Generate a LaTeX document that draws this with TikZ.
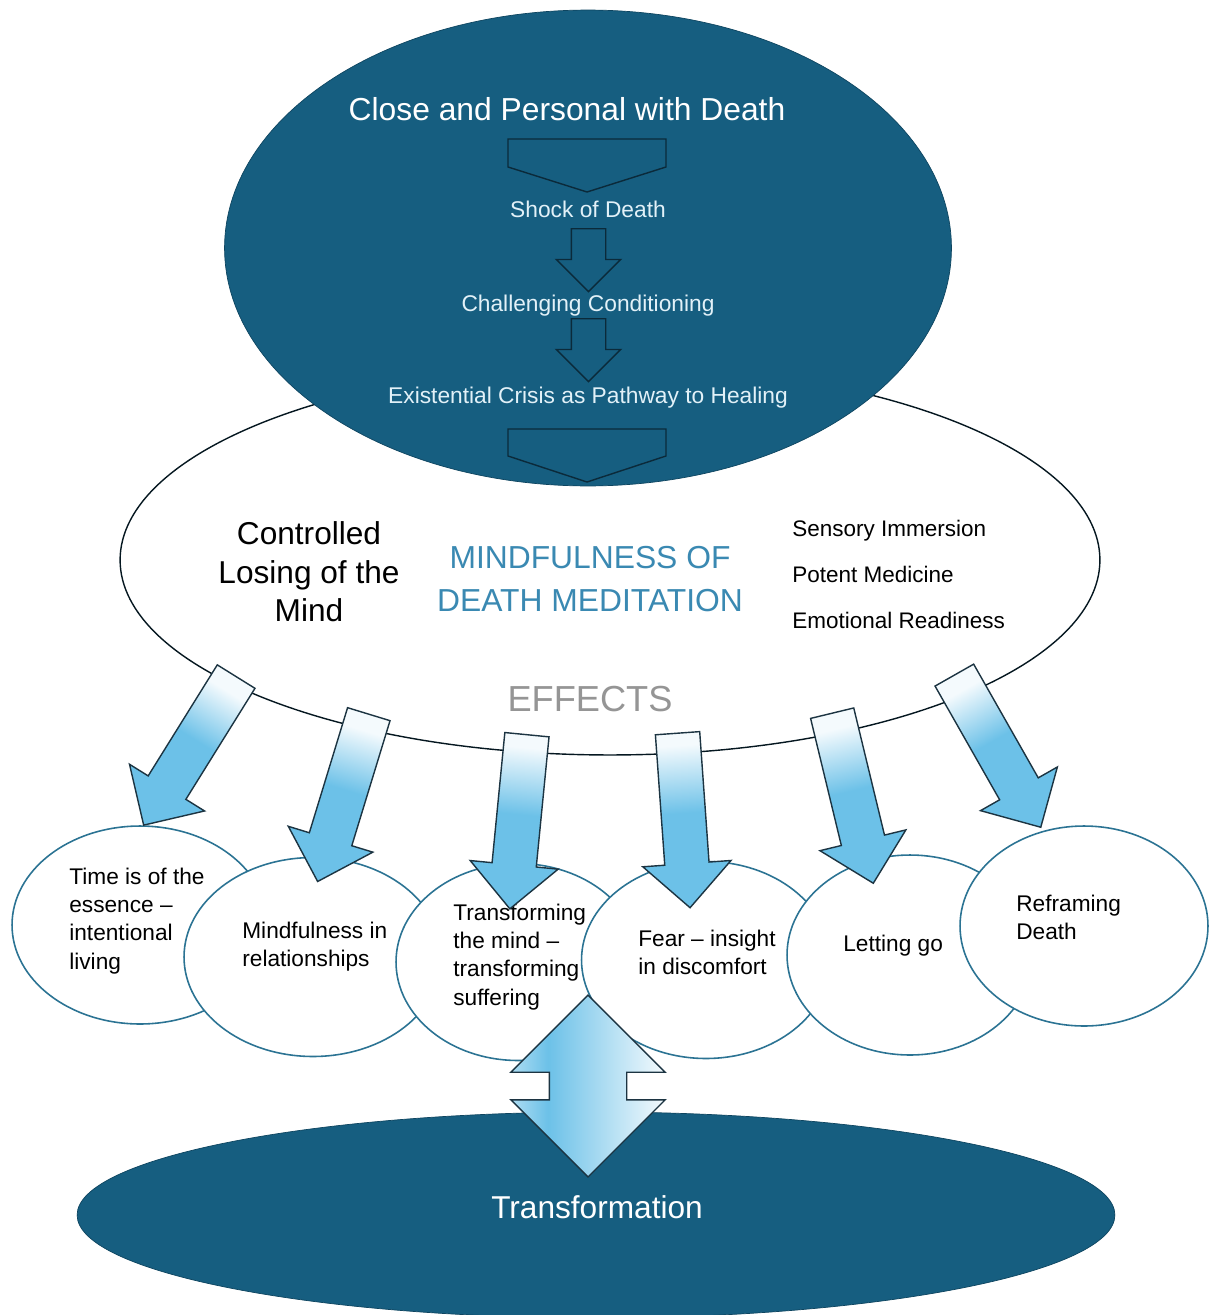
\documentclass[tikz,border=0pt]{standalone}
\usepackage{fontspec}
\setmainfont{Liberation Sans}
\usetikzlibrary{shapes.geometric, shapes.arrows}
\definecolor{deepblue}{HTML}{165E80}
\definecolor{deepedge}{HTML}{0E4560}
\definecolor{lineblue}{HTML}{2B7393}
\definecolor{titleblue}{HTML}{3A89B2}
\definecolor{arrowblue}{HTML}{6CC1E8}
\definecolor{arrowpale}{HTML}{F4FAFD}
\definecolor{arrowedge}{HTML}{1C3442}
\definecolor{flowedge}{HTML}{0B2A3A}
\definecolor{paletext}{HTML}{E2F1F8}
\definecolor{effectgray}{HTML}{959595}

% pale tail, blue head (bottom = tail)
\pgfdeclareverticalshading{arrowfade}{100bp}{color(0bp)=(arrowpale); color(28bp)=(arrowpale);
  color(48bp)=(arrowblue); color(100bp)=(arrowblue)}
% left to right across the double arrow
\pgfdeclarehorizontalshading{bothfade}{100bp}{color(0bp)=(arrowblue!55!white); color(25bp)=(arrowblue!55!white);
  color(37bp)=(arrowblue); color(75bp)=(arrowpale); color(100bp)=(arrowpale)}

\tikzset{
  bigoval/.style={ellipse, draw=deepedge, fill=deepblue, inner sep=0},
  effect/.style={ellipse, draw=lineblue, line width=0.9pt, fill=white, inner sep=0},
  efftext/.style={anchor=west, align=left, inner sep=0, font=\fontsize{12.9}{16}\selectfont},
  bluearrow/.style={single arrow, draw=arrowedge, line width=0.8pt, inner sep=0.43cm,
    minimum height=3.5cm, single arrow head extend=0.44cm, anchor=tail, shading=arrowfade},
  flowarrow/.style={single arrow, draw=flowedge, line width=0.8pt, inner sep=0.33cm,
    minimum height=1.26cm, single arrow head extend=0.3cm, rotate=-90, anchor=tail},
  paletxt/.style={text=paletext, inner sep=0, font=\fontsize{12.95}{15}\selectfont}
}

\begin{document}
\begin{tikzpicture}[x=0.02cm, y=-0.02cm]
\useasboundingbox (0,0) rectangle (1208,1315);

% meditation oval and the path into it
\node[ellipse, draw=black!75!deepblue, line width=0.8pt, fill=white, inner sep=0,
  minimum width=19.6cm, minimum height=7.8cm] (meditation) at (610,560) {};
\node[bigoval, minimum width=14.54cm, minimum height=9.52cm] (death) at (588,248) {};

\node[text=white, inner sep=0, font=\fontsize{18.1}{21}\selectfont] (close) at (567,109) {Close and Personal with Death};
\draw[flowedge, line width=0.8pt] (508,139) -- (666,139) -- (666,167) -- (587,192) -- (508,167) -- cycle;
\node[paletxt] (shock) at (588,209) {Shock of Death};
\node[flowarrow] (down1) at (588.5,228) {};
\node[paletxt] (challenge) at (588,306) {Challenging Conditioning};
\node[flowarrow] (down2) at (588.5,318) {};
\node[paletxt] (crisis) at (588,398) {Existential Crisis as Pathway to Healing};
\draw[flowedge, line width=0.8pt] (508,429) -- (666,429) -- (666,456) -- (587,482) -- (508,456) -- cycle;

% inside the meditation oval
\node[align=center, inner sep=0, font=\fontsize{18}{22}\selectfont] (losing) at (309,572) {Controlled\\Losing of the\\Mind};
\node[align=center, inner sep=0, text=titleblue, font=\fontsize{18.1}{24.4}\selectfont] (mindful) at (590,579) {MINDFULNESS OF\\DEATH MEDITATION};
\node[anchor=west, align=left, inner sep=0, font=\fontsize{12.8}{26.2}\selectfont] (factors) at (792,574) {Sensory Immersion\\Potent Medicine\\Emotional Readiness};
\node[text=effectgray, inner sep=0, font=\fontsize{20.6}{24}\selectfont] (effects) at (590,699) {EFFECTS};

% transformation
\node[bigoval, minimum width=20.76cm, minimum height=4.12cm] (transform) at (596,1215) {};
\node[text=white, inner sep=0, font=\fontsize{18}{21}\selectfont] (transtxt) at (597,1207) {Transformation};

% effects
\node[effect, minimum width=5.12cm, minimum height=3.96cm] (time) at (140,925) {};
\node[effect, minimum width=5.16cm, minimum height=3.98cm] (relation) at (313,957) {};
\node[effect, minimum width=4.88cm, minimum height=3.94cm] (suffer) at (518,962) {};
\node[effect, minimum width=4.98cm, minimum height=3.94cm] (fear) at (706,960) {};
\node[effect, minimum width=4.92cm, minimum height=4cm] (letgo) at (910,955) {};
\node[effect, minimum width=4.96cm, minimum height=4cm] (reframe) at (1084,926) {};

\node[efftext] (timetxt) at (69,921) {Time is of the\\essence --\\intentional\\living};
\node[efftext] (relationtxt) at (242,947) {Mindfulness in\\relationships};
\node[efftext] (suffertxt) at (453,957) {Transforming\\the mind --\\transforming\\suffering};
\node[efftext] (feartxt) at (638,952) {Fear -- insight\\in discomfort};
\node[efftext] (letgotxt) at (843,946) {Letting go};
\node[efftext] (reframetxt) at (1016,917) {Reframing\\Death};

% arrows from the oval to the effects
\node[bluearrow, rotate=-121.9, shading angle=-211.9] (toTime) at (236.5,676) {};
\node[bluearrow, rotate=-107.0, shading angle=-197.0] (toRelation) at (369,713.5) {};
\node[bluearrow, rotate=-95.6, shading angle=-185.6] (toSuffer) at (527,734) {};
\node[bluearrow, rotate=-85.9, shading angle=-175.9] (toFear) at (677.5,732.5) {};
\node[bluearrow, rotate=-76.4, shading angle=-166.4] (toLetgo) at (832,712.5) {};
\node[bluearrow, rotate=-60.4, shading angle=-150.4] (toReframe) at (954,674.5) {};

\node[double arrow, draw=arrowedge, line width=0.8pt, rotate=90, inner sep=0.76cm,
  minimum height=3.64cm, double arrow head extend=0.77cm, shading=bothfade] (change) at (588,1086) {};
\end{tikzpicture}
\end{document}
